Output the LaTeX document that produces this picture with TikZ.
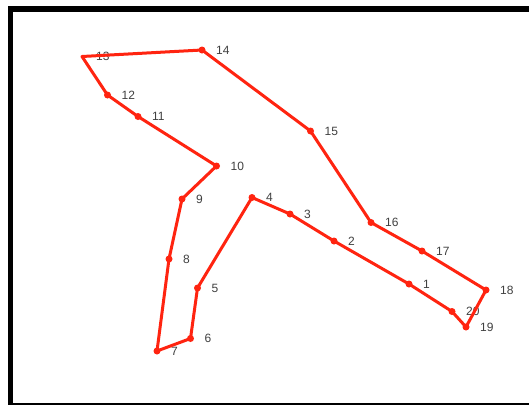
\documentclass[tikz,border=0pt]{standalone}
\usepackage{fontspec}
\setmainfont{Liberation Sans}
\definecolor{polyred}{HTML}{FF2410}
\definecolor{lblgray}{HTML}{404040}
\begin{document}
\begin{tikzpicture}[x=1pt,y=-1pt,
  dot/.style={circle,fill=polyred,inner sep=0pt,minimum size=7pt},
  lbl/.style={anchor=west,inner sep=0pt,text=lblgray,font=\fontsize{12}{12}\selectfont,xshift=14pt},
  edge/.style={draw=polyred,line width=3pt,line join=round}]
\useasboundingbox (0,0) rectangle (529,405);
\fill[white] (0,0) rectangle (529,405);
% frame
\fill[black] (8,6) rectangle (529,12);
\fill[black] (8,6) rectangle (13,405);
\fill[black] (8,403) rectangle (529,404.5);
% points
\coordinate (c1) at (409,284);
\coordinate (c2) at (334,241);
\coordinate (c3) at (290,214);
\coordinate (c4) at (252,197.5);
\coordinate (c5) at (197.5,288);
\coordinate (c6) at (190.5,338.5);
\coordinate (c7) at (157,351);
\coordinate (c8) at (169,259);
\coordinate (c9) at (182,199);
\coordinate (c10) at (216.5,166);
\coordinate (c11) at (138,116.5);
\coordinate (c12) at (107.5,95);
\coordinate (c13) at (82,56.5);
\coordinate (c14) at (202,50);
\coordinate (c15) at (310.5,131);
\coordinate (c16) at (371,222.5);
\coordinate (c17) at (422,251);
\coordinate (c18) at (486,290);
\coordinate (c19) at (466,327);
\coordinate (c20) at (452,311.5);
% labels
\foreach \i in {1,...,20} {
  \node[lbl] (l\i) at (c\i) {\i};
}
% dots
\foreach \i in {1,...,12,14,15,16,17,18,19,20} {
  \node[dot] (p\i) at (c\i) {};
}
% polygon
\draw[edge] (c1) -- (c2) -- (c3) -- (c4) -- (c5) -- (c6) -- (c7) -- (c8) -- (c9) -- (c10)
  -- (c11) -- (c12) -- (c13) -- (c14) -- (c15) -- (c16) -- (c17) -- (c18) -- (c19) -- (c20) -- cycle;
\end{tikzpicture}
\end{document}
